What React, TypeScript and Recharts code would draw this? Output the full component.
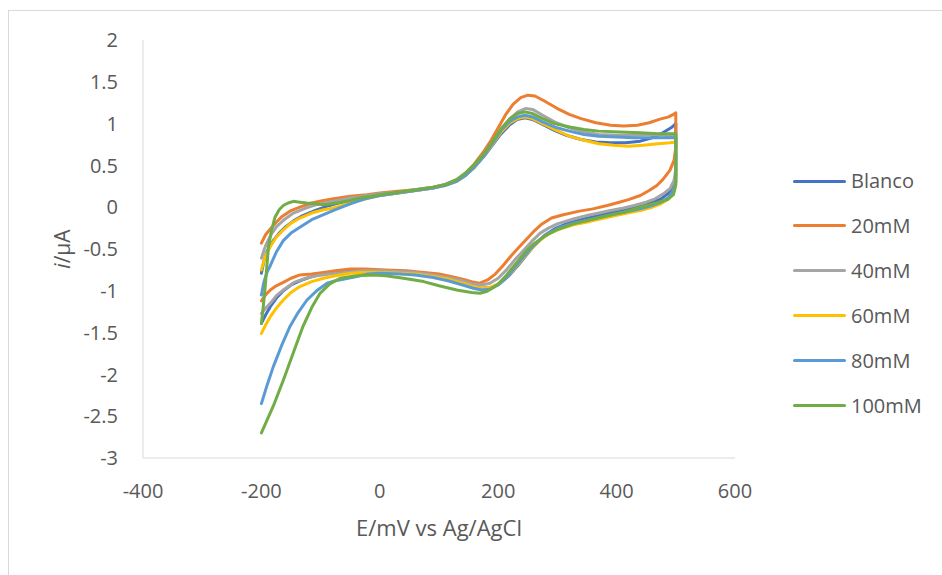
import { LineChart, Line, XAxis, YAxis } from 'recharts';

type Pt = [number, number];

// [E (mV vs Ag/AgCl), i (µA)] — anodic sweep from -200 to 500 mV, then back to -200 mV
const blanco: Pt[] = [
  [-200, -0.79], [-195, -0.62], [-190, -0.52], [-180, -0.4], [-170, -0.31], [-160, -0.24],
  [-145, -0.16], [-130, -0.1], [-110, -0.04], [-90, 0.01], [-70, 0.05], [-50, 0.08],
  [-30, 0.11], [0, 0.14], [30, 0.17], [60, 0.2], [90, 0.23], [110, 0.27], [130, 0.32],
  [145, 0.39], [160, 0.48], [175, 0.6], [190, 0.74], [205, 0.88], [220, 0.99], [232, 1.05],
  [245, 1.07], [258, 1.05], [275, 0.99], [295, 0.92], [315, 0.86], [340, 0.81], [365, 0.78],
  [390, 0.77], [415, 0.77], [440, 0.79], [460, 0.83], [478, 0.89], [492, 0.95], [500, 1.0],
  [500, 0.38], [496, 0.26], [488, 0.17], [475, 0.1], [455, 0.05], [430, 0.0], [400, -0.05],
  [370, -0.1], [340, -0.15], [315, -0.2], [295, -0.26], [278, -0.34], [262, -0.45],
  [248, -0.57], [233, -0.7], [218, -0.82], [203, -0.91], [188, -0.96], [172, -0.97],
  [155, -0.95], [135, -0.91], [110, -0.86], [85, -0.82], [60, -0.79], [30, -0.77], [0, -0.76],
  [-30, -0.76], [-60, -0.77], [-90, -0.79], [-115, -0.83], [-135, -0.88], [-150, -0.93],
  [-163, -1.0], [-175, -1.09], [-185, -1.19], [-193, -1.29], [-200, -1.39],
];

const mM20: Pt[] = [
  [-200, -0.43], [-193, -0.33], [-185, -0.26], [-175, -0.18], [-165, -0.11], [-150, -0.04],
  [-135, 0.0], [-115, 0.05], [-95, 0.08], [-78, 0.1], [-50, 0.13], [-22, 0.15], [0, 0.17],
  [30, 0.19], [60, 0.21], [90, 0.24], [110, 0.27], [130, 0.33], [145, 0.41], [160, 0.52],
  [175, 0.66], [188, 0.8], [200, 0.95], [212, 1.1], [225, 1.23], [238, 1.31], [250, 1.34],
  [262, 1.33], [278, 1.27], [300, 1.18], [320, 1.11], [340, 1.06], [365, 1.01], [390, 0.98],
  [412, 0.97], [435, 0.98], [455, 1.01], [472, 1.05], [488, 1.08], [496, 1.11], [500, 1.13],
  [500, 0.72], [497, 0.56], [490, 0.44], [478, 0.33], [468, 0.26], [455, 0.2], [440, 0.14],
  [420, 0.09], [400, 0.05], [384, 0.02], [360, -0.02], [335, -0.05], [310, -0.09],
  [290, -0.13], [274, -0.2], [260, -0.29], [247, -0.39], [235, -0.48], [222, -0.58],
  [208, -0.7], [195, -0.8], [182, -0.87], [168, -0.91], [155, -0.89], [140, -0.86],
  [120, -0.83], [100, -0.8], [75, -0.78], [45, -0.76], [10, -0.75], [-25, -0.74], [-50, -0.74],
  [-75, -0.76], [-95, -0.78], [-115, -0.8], [-135, -0.81], [-150, -0.85], [-163, -0.9],
  [-175, -0.94], [-185, -0.99], [-193, -1.05], [-200, -1.12],
];

const mM40: Pt[] = [
  [-200, -0.61], [-195, -0.5], [-191, -0.43], [-183, -0.32], [-174, -0.23], [-160, -0.14],
  [-146, -0.07], [-125, -0.01], [-107, 0.03], [-80, 0.07], [-50, 0.11], [-20, 0.14], [0, 0.16],
  [30, 0.18], [60, 0.21], [90, 0.24], [110, 0.27], [130, 0.33], [145, 0.4], [160, 0.5],
  [175, 0.63], [190, 0.77], [205, 0.92], [220, 1.06], [233, 1.14], [246, 1.18], [258, 1.17],
  [275, 1.1], [295, 1.02], [320, 0.95], [345, 0.9], [370, 0.87], [400, 0.86], [430, 0.86],
  [455, 0.87], [480, 0.86], [500, 0.85],
  [500, 0.45], [497, 0.32], [490, 0.22], [479, 0.16], [465, 0.1], [450, 0.06], [430, 0.02],
  [412, -0.01], [390, -0.04], [370, -0.07], [350, -0.1], [327, -0.14], [300, -0.2],
  [285, -0.25], [271, -0.31], [258, -0.4], [245, -0.5], [228, -0.63], [214, -0.75],
  [200, -0.85], [186, -0.91], [172, -0.93], [158, -0.92], [140, -0.88], [115, -0.84],
  [90, -0.81], [60, -0.78], [30, -0.77], [0, -0.76], [-30, -0.76], [-60, -0.78], [-85, -0.8],
  [-107, -0.82], [-125, -0.85], [-145, -0.9], [-163, -0.99], [-175, -1.06], [-185, -1.15],
  [-193, -1.21], [-200, -1.27],
];

const mM60: Pt[] = [
  [-200, -0.75], [-194, -0.6], [-185, -0.47], [-175, -0.36], [-163, -0.27], [-150, -0.19],
  [-135, -0.13], [-115, -0.07], [-95, -0.03], [-78, -0.01], [-55, 0.04], [-30, 0.09], [0, 0.14],
  [30, 0.17], [60, 0.2], [90, 0.23], [110, 0.26], [130, 0.31], [145, 0.38], [160, 0.48],
  [175, 0.61], [190, 0.75], [205, 0.9], [220, 1.01], [233, 1.06], [245, 1.08], [258, 1.06],
  [275, 1.0], [295, 0.93], [320, 0.85], [345, 0.8], [370, 0.76], [395, 0.74], [420, 0.73],
  [445, 0.74], [470, 0.76], [490, 0.77], [500, 0.78],
  [500, 0.3], [496, 0.19], [488, 0.1], [475, 0.04], [460, 0.0], [440, -0.04], [412, -0.08],
  [385, -0.12], [355, -0.17], [327, -0.21], [305, -0.26], [285, -0.32], [270, -0.4],
  [256, -0.5], [242, -0.61], [228, -0.73], [214, -0.84], [200, -0.92], [186, -0.96],
  [172, -0.97], [158, -0.95], [140, -0.91], [115, -0.86], [90, -0.83], [60, -0.8], [34, -0.79],
  [0, -0.78], [-30, -0.78], [-50, -0.79], [-75, -0.82], [-95, -0.85], [-115, -0.89],
  [-135, -0.95], [-150, -1.02], [-163, -1.11], [-175, -1.21], [-185, -1.31], [-193, -1.41],
  [-200, -1.51],
];

const mM80: Pt[] = [
  [-200, -1.05], [-196, -0.9], [-190, -0.77], [-185, -0.7], [-175, -0.54], [-163, -0.4],
  [-150, -0.31], [-135, -0.24], [-115, -0.15], [-95, -0.09], [-75, -0.03], [-50, 0.04],
  [-25, 0.1], [0, 0.14], [30, 0.17], [60, 0.2], [90, 0.23], [110, 0.26], [130, 0.31],
  [145, 0.38], [160, 0.48], [175, 0.61], [190, 0.76], [205, 0.92], [220, 1.03], [233, 1.08],
  [245, 1.1], [258, 1.08], [275, 1.02], [295, 0.96], [320, 0.91], [345, 0.87], [370, 0.85],
  [400, 0.84], [430, 0.83], [460, 0.83], [485, 0.83], [500, 0.83],
  [500, 0.3], [496, 0.2], [488, 0.12], [475, 0.06], [460, 0.02], [440, -0.02], [412, -0.06],
  [385, -0.1], [355, -0.15], [327, -0.19], [305, -0.24], [285, -0.31], [270, -0.39],
  [257, -0.48], [242, -0.6], [228, -0.72], [214, -0.84], [200, -0.93], [186, -0.98],
  [172, -0.99], [158, -0.97], [140, -0.93], [115, -0.88], [90, -0.84], [60, -0.81], [34, -0.8],
  [0, -0.79], [-20, -0.8], [-39, -0.83], [-60, -0.86], [-75, -0.88], [-89, -0.91],
  [-105, -0.99], [-123, -1.11], [-138, -1.26], [-152, -1.43], [-165, -1.64], [-180, -1.91],
  [-190, -2.12], [-200, -2.35],
];

const mM100: Pt[] = [
  [-200, -1.39], [-197, -1.2], [-194, -0.99], [-191, -0.72], [-188, -0.47], [-183, -0.28],
  [-177, -0.12], [-170, -0.03], [-163, 0.02], [-155, 0.05], [-146, 0.07], [-135, 0.06],
  [-123, 0.05], [-108, 0.04], [-95, 0.03], [-82, 0.04], [-72, 0.05], [-50, 0.08], [-34, 0.11],
  [-15, 0.13], [0, 0.15], [30, 0.18], [60, 0.21], [90, 0.24], [110, 0.27], [130, 0.33],
  [145, 0.41], [160, 0.51], [175, 0.63], [190, 0.78], [205, 0.94], [220, 1.06], [233, 1.12],
  [245, 1.14], [258, 1.12], [275, 1.06], [295, 1.0], [321, 0.96], [345, 0.93], [370, 0.91],
  [406, 0.9], [440, 0.89], [470, 0.88], [490, 0.88], [500, 0.88],
  [500, 0.26], [496, 0.15], [486, 0.09], [468, 0.05], [440, 0.0], [412, -0.06], [385, -0.1],
  [355, -0.15], [327, -0.2], [299, -0.27], [280, -0.34], [260, -0.44], [248, -0.52],
  [235, -0.63], [226, -0.71], [212, -0.83], [200, -0.92], [192, -0.96], [180, -1.01],
  [169, -1.03], [155, -1.02], [130, -0.99], [100, -0.94], [74, -0.89], [40, -0.85], [10, -0.82],
  [-11, -0.81], [-40, -0.82], [-67, -0.85], [-85, -0.92], [-101, -1.03], [-115, -1.2],
  [-130, -1.43], [-145, -1.72], [-163, -2.07], [-180, -2.38], [-192, -2.57], [-200, -2.7],
];

const X_TICKS = [-400, -200, 0, 200, 400, 600];
const Y_TICKS = [-3, -2.5, -2, -1.5, -1, -0.5, 0, 0.5, 1, 1.5, 2];

const SERIES = [
  { name: 'Blanco', color: '#4472C4', points: blanco },
  { name: '20mM', color: '#ED7D31', points: mM20 },
  { name: '40mM', color: '#A5A5A5', points: mM40 },
  { name: '60mM', color: '#FFC000', points: mM60 },
  { name: '80mM', color: '#5B9BD5', points: mM80 },
  { name: '100mM', color: '#70AD47', points: mM100 },
];

const FONT = '"Open Sans", sans-serif';
const TEXT = '#595959';
const AXIS = '#D9D9D9';

function YTitle({ viewBox }: any) {
  const cx = viewBox.x + 19;
  const cy = viewBox.y + viewBox.height / 2;
  return (
    <text
      x={cx}
      y={cy}
      transform={`rotate(-90 ${cx} ${cy})`}
      textAnchor="middle"
      dominantBaseline="central"
      fontFamily={FONT}
      fontSize={21}
      fill={TEXT}
    >
      <tspan fontStyle="italic">i</tspan>/µA
    </text>
  );
}

function XTitle({ viewBox }: any) {
  return (
    <text
      x={viewBox.x + viewBox.width / 2}
      y={viewBox.y + 69}
      textAnchor="middle"
      dominantBaseline="central"
      fontFamily={FONT}
      fontSize={22}
      fill={TEXT}
    >
      E/mV vs Ag/AgCl
    </text>
  );
}

export default function App() {
  return (
    <div
      style={{
        position: 'absolute',
        left: 0,
        top: 0,
        width: 942,
        height: 575,
        overflow: 'hidden',
        background: '#fff',
        fontFamily: FONT,
      }}
    >
      {/* chart area frame */}
      <div
        style={{
          position: 'absolute',
          left: 8,
          top: 10,
          width: 1000,
          height: 700,
          border: `1px solid ${AXIS}`,
        }}
      />
      <div style={{ position: 'absolute', left: 0, top: 0 }}>
        <LineChart width={942} height={575} margin={{ top: 40, right: 207, bottom: 57, left: 43 }}>
          <XAxis
            type="number"
            dataKey="x"
            domain={[-400, 600]}
            ticks={X_TICKS}
            allowDataOverflow
            height={60}
            tickLine={false}
            tickMargin={20}
            axisLine={{ stroke: AXIS, strokeWidth: 1 }}
            tick={{ fill: TEXT, fontSize: 20, fontFamily: FONT }}
            label={<XTitle />}
          />
          <YAxis
            type="number"
            dataKey="y"
            domain={[-3, 2]}
            ticks={Y_TICKS}
            allowDataOverflow
            width={100}
            tickLine={false}
            tickMargin={19}
            axisLine={{ stroke: AXIS, strokeWidth: 1 }}
            tick={{ fill: TEXT, fontSize: 20, fontFamily: FONT }}
            label={<YTitle />}
          />
          {SERIES.map((s) => (
            <Line
              key={s.name}
              name={s.name}
              data={s.points.map(([x, y]) => ({ x, y }))}
              dataKey="y"
              type="linear"
              stroke={s.color}
              strokeWidth={3}
              strokeLinejoin="round"
              strokeLinecap="round"
              dot={false}
              activeDot={false}
              isAnimationActive={false}
            />
          ))}
        </LineChart>
      </div>
      {/* legend */}
      {SERIES.map((s, i) => (
        <div
          key={s.name}
          style={{
            position: 'absolute',
            left: 793,
            top: 181 + i * 44.9 - 13,
            height: 26,
            display: 'flex',
            alignItems: 'center',
          }}
        >
          <span
            style={{
              display: 'inline-block',
              width: 53,
              height: 3,
              borderRadius: 2,
              background: s.color,
            }}
          />
          <span style={{ marginLeft: 5, fontSize: 20, color: TEXT, lineHeight: '26px' }}>{s.name}</span>
        </div>
      ))}
    </div>
  );
}
